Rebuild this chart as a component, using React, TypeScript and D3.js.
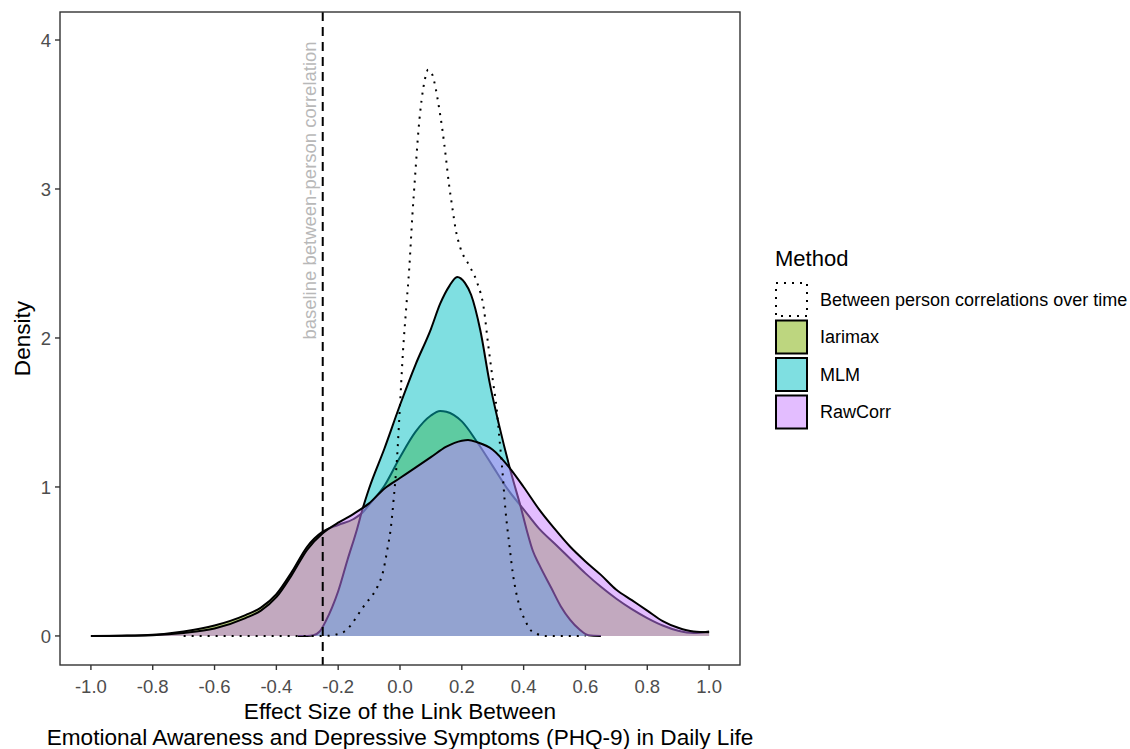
import React from "react";
import * as d3 from "d3";

// methods in legend order
const methods = ["Between person correlations over time", "Iarimax", "MLM", "RawCorr"];
const fillColors: Record<string, string> = {
  Iarimax: "#7CAE00",
  MLM: "#00BFC4",
  RawCorr: "#C77CFF",
};

// density estimates: [effect size, density]
const iarimaxDensity: [number, number][] = [
  [-1.0, 0], [-0.9, 0.002], [-0.8, 0.008], [-0.7, 0.03], [-0.6, 0.07], [-0.5, 0.14],
  [-0.45, 0.19], [-0.4, 0.28], [-0.35, 0.43], [-0.3, 0.6], [-0.25, 0.7], [-0.2, 0.745],
  [-0.15, 0.785], [-0.12, 0.83], [-0.1, 0.88], [-0.05, 1.01], [0.0, 1.2], [0.05, 1.37],
  [0.1, 1.48], [0.13, 1.51], [0.15, 1.505], [0.2, 1.44], [0.25, 1.3], [0.3, 1.14],
  [0.35, 0.98], [0.4, 0.85], [0.45, 0.72], [0.5, 0.62], [0.55, 0.52], [0.6, 0.42],
  [0.65, 0.33], [0.7, 0.25], [0.75, 0.18], [0.8, 0.12], [0.85, 0.07], [0.9, 0.035],
  [0.95, 0.02], [1.0, 0.03],
];

const mlmDensity: [number, number][] = [
  [-0.33, 0], [-0.3, 0.0], [-0.28, 0.005], [-0.26, 0.03], [-0.24, 0.1], [-0.22, 0.19],
  [-0.2, 0.3], [-0.17, 0.51], [-0.14, 0.71], [-0.12, 0.86], [-0.1, 0.99], [-0.05, 1.26],
  [0.0, 1.55], [0.05, 1.82], [0.1, 2.06], [0.13, 2.23], [0.16, 2.35], [0.185, 2.41],
  [0.21, 2.37], [0.23, 2.29], [0.26, 2.05], [0.29, 1.7], [0.32, 1.42], [0.36, 1.09],
  [0.39, 0.87], [0.41, 0.71], [0.43, 0.57], [0.45, 0.48], [0.49, 0.32], [0.52, 0.2],
  [0.55, 0.11], [0.58, 0.045], [0.61, 0.005], [0.65, 0],
];

const rawCorrDensity: [number, number][] = [
  [-1.0, 0], [-0.9, 0.001], [-0.8, 0.005], [-0.7, 0.02], [-0.6, 0.05], [-0.5, 0.12],
  [-0.45, 0.17], [-0.4, 0.26], [-0.35, 0.41], [-0.3, 0.58], [-0.25, 0.69], [-0.2, 0.76],
  [-0.15, 0.82], [-0.1, 0.89], [-0.05, 0.99], [0.0, 1.06], [0.05, 1.13], [0.1, 1.2],
  [0.15, 1.27], [0.2, 1.31], [0.22, 1.315], [0.25, 1.3], [0.3, 1.25], [0.35, 1.14],
  [0.4, 1.0], [0.45, 0.85], [0.5, 0.72], [0.55, 0.6], [0.6, 0.5], [0.65, 0.41],
  [0.7, 0.31], [0.75, 0.24], [0.8, 0.17], [0.85, 0.1], [0.9, 0.055], [0.95, 0.03],
  [1.0, 0.025],
];

const betweenDensity: [number, number][] = [
  [-0.7, 0], [-0.5, 0], [-0.3, 0], [-0.245, 0.0], [-0.206, 0.01], [-0.18, 0.03],
  [-0.16, 0.07], [-0.143, 0.12], [-0.127, 0.17], [-0.11, 0.22], [-0.09, 0.27],
  [-0.073, 0.33], [-0.055, 0.43], [-0.041, 0.58], [-0.03, 0.72], [-0.02, 0.93],
  [-0.01, 1.18], [0.0, 1.55], [0.01, 1.92], [0.02, 2.2], [0.03, 2.47], [0.04, 2.82],
  [0.05, 3.12], [0.06, 3.4], [0.07, 3.6], [0.08, 3.73], [0.091, 3.8], [0.102, 3.78],
  [0.115, 3.68], [0.126, 3.55], [0.137, 3.4], [0.148, 3.22], [0.158, 3.04],
  [0.169, 2.88], [0.18, 2.73], [0.196, 2.6], [0.223, 2.49], [0.25, 2.37], [0.271, 2.2],
  [0.285, 1.96], [0.3, 1.72], [0.314, 1.5], [0.321, 1.34], [0.33, 1.14], [0.341, 0.85],
  [0.355, 0.59], [0.365, 0.42], [0.375, 0.3], [0.384, 0.22], [0.395, 0.15],
  [0.406, 0.1], [0.42, 0.045], [0.444, 0.013], [0.47, 0], [0.6, 0],
];

const filledSeries: [string, [number, number][]][] = [
  ["Iarimax", iarimaxDensity],
  ["MLM", mlmDensity],
  ["RawCorr", rawCorrDensity],
];

const xTicks = [-1.0, -0.8, -0.6, -0.4, -0.2, 0.0, 0.2, 0.4, 0.6, 0.8, 1.0];
const yTicks = [0, 1, 2, 3, 4];
const baselineCorr = -0.25;

const W = 1130;
const H = 749;
const panel = { left: 60, right: 740, top: 12, bottom: 665 };
const FONT = "'Liberation Sans', Arial, Helvetica, sans-serif";

export default function App() {
  const x = d3.scaleLinear().domain([-1.1, 1.1]).range([panel.left, panel.right]);
  const y = d3.scaleLinear().domain([-0.195, 4.188]).range([panel.bottom, panel.top]);

  const area = d3
    .area<[number, number]>()
    .x((d) => x(d[0]))
    .y0(y(0))
    .y1((d) => y(d[1]))
    .curve(d3.curveMonotoneX);
  const line = d3
    .line<[number, number]>()
    .x((d) => x(d[0]))
    .y((d) => y(d[1]))
    .curve(d3.curveMonotoneX);

  const legendX = 775;
  const keyTop = 282;
  const keyStep = 37.5;
  const keyW = 33;
  const keyH = 35;

  return (
    <svg
      width={W}
      height={H}
      style={{ position: "absolute", left: 0, top: 0, background: "#fff" }}
      fontFamily={FONT}
    >
      <rect x={0} y={0} width={W} height={H} fill="#fff" />

      {/* densities */}
      {filledSeries.map(([name, pts]) => (
        <g key={name}>
          <path d={area(pts) ?? ""} fill={fillColors[name]} fillOpacity={0.5} />
          <path d={line(pts) ?? ""} fill="none" stroke="#000" strokeWidth={2} />
        </g>
      ))}
      <path
        d={line(betweenDensity) ?? ""}
        fill="none"
        stroke="#000"
        strokeWidth={2}
        strokeDasharray="2,6"
      />

      {/* baseline reference */}
      <line
        x1={x(baselineCorr)}
        x2={x(baselineCorr)}
        y1={panel.top}
        y2={panel.bottom}
        stroke="#000"
        strokeWidth={2}
        strokeDasharray="9,6"
      />
      <text
        transform={`translate(${x(baselineCorr) - 7},${y(2.99)}) rotate(-90)`}
        textAnchor="middle"
        fontSize={18.5}
        fill="#b8b8b8"
      >
        baseline between-person correlation
      </text>

      {/* panel border */}
      <rect
        x={panel.left}
        y={panel.top}
        width={panel.right - panel.left}
        height={panel.bottom - panel.top}
        fill="none"
        stroke="#333"
        strokeWidth={1.4}
      />

      {/* x axis */}
      {xTicks.map((t) => (
        <g key={t}>
          <line x1={x(t)} x2={x(t)} y1={panel.bottom} y2={panel.bottom + 5} stroke="#333" strokeWidth={1.4} />
          <text x={x(t)} y={panel.bottom + 28} textAnchor="middle" fontSize={18.5} fill="#4d4d4d">
            {t.toFixed(1)}
          </text>
        </g>
      ))}
      {/* y axis */}
      {yTicks.map((t) => (
        <g key={t}>
          <line x1={panel.left - 5} x2={panel.left} y1={y(t)} y2={y(t)} stroke="#333" strokeWidth={1.4} />
          <text x={panel.left - 9} y={y(t)} dy="0.36em" textAnchor="end" fontSize={18.5} fill="#4d4d4d">
            {t}
          </text>
        </g>
      ))}

      <text x={(panel.left + panel.right) / 2} y={719} textAnchor="middle" fontSize={22.6} fill="#000">
        Effect Size of the Link Between
      </text>
      <text x={(panel.left + panel.right) / 2} y={745} textAnchor="middle" fontSize={22.6} fill="#000">
        Emotional Awareness and Depressive Symptoms (PHQ-9) in Daily Life
      </text>
      <text
        transform={`translate(30,${(panel.top + panel.bottom) / 2}) rotate(-90)`}
        textAnchor="middle"
        fontSize={22.6}
        fill="#000"
      >
        Density
      </text>

      {/* legend */}
      <text x={legendX} y={266} fontSize={22} fill="#000">
        Method
      </text>
      {methods.map((m, i) => {
        const ky = keyTop + i * keyStep;
        const dotted = i === 0;
        return (
          <g key={m}>
            <rect x={legendX} y={ky} width={keyW} height={keyH} fill="#fff" />
            <rect
              x={legendX + 1}
              y={ky + 1}
              width={keyW - 2}
              height={keyH - 2}
              fill={dotted ? "none" : fillColors[m]}
              fillOpacity={0.5}
              stroke="#000"
              strokeWidth={2}
              strokeDasharray={dotted ? "2,6" : undefined}
            />
            <text x={legendX + 45} y={ky + keyH / 2} dy="0.36em" fontSize={18} fill="#000">
              {m}
            </text>
          </g>
        );
      })}
    </svg>
  );
}
